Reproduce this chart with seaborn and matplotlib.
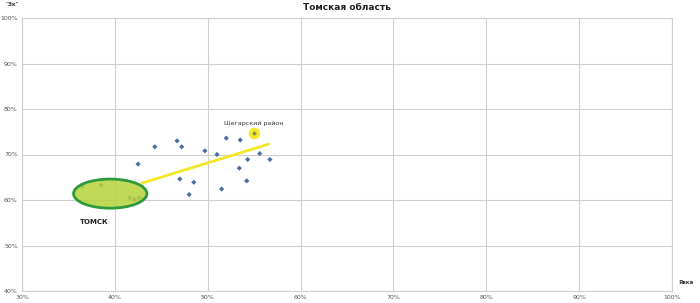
import matplotlib
matplotlib.use("Agg")
import matplotlib.pyplot as plt
from matplotlib.patches import Ellipse
import seaborn as sns
import pandas as pd

# Data (percentages)
turnout = [44.3, 46.7, 47.2, 42.5, 49.7, 51.0, 52.0, 53.5, 55.6, 54.3, 56.7, 53.4,
           54.2, 51.5, 47.0, 48.5, 48.0, 36.5, 38.5, 41.6, 42.1, 42.6]
share = [71.7, 73.0, 71.7, 67.9, 70.8, 70.0, 73.6, 73.2, 70.2, 68.9, 68.9, 67.0,
         64.2, 62.4, 64.6, 63.9, 61.2, 62.9, 63.3, 60.5, 60.1, 60.5]
highlight_x = [55.0]
highlight_y = [74.7]
highlight_label = "Шегарский район"
trend_x = [42.9, 56.6]
trend_y = [63.7, 72.3]
tomsk_center = (39.5, 61.4)
tomsk_size = (7.9, 6.4)
tomsk_label = "ТОМСК"
title = "Томская область"
x_label = "Явка"
y_label = "\"Зк\""
x_ticks = [30, 40, 50, 60, 70, 80, 90, 100]
y_ticks = [40, 50, 60, 70, 80, 90, 100]

df = pd.DataFrame({"turnout": turnout, "share": share})

sns.set_theme(style="white")
plt.rcParams['font.family'] = ['DejaVu Sans']

fig = plt.figure(figsize=(7, 3.03), dpi=100)
ax = fig.add_axes([22/700, 1 - 291/303, 650/700, 273/303])

ax.set_xlim(30, 100)
ax.set_ylim(40, 100)
ax.set_xticks(x_ticks)
ax.set_yticks(y_ticks)
ax.set_xticklabels([f"{t}%" for t in x_ticks])
ax.set_yticklabels([f"{t}%" for t in y_ticks])
ax.grid(True, color="#cfcfcf", linewidth=0.8)
ax.set_axisbelow(True)
for s in ax.spines.values():
    s.set_color("#cfcfcf")
    s.set_linewidth(0.8)
ax.tick_params(axis="both", labelsize=4.5, colors="#555555", length=0, pad=3)

# Trend line
sns.lineplot(x=trend_x, y=trend_y, ax=ax, color="#f2e625", linewidth=2, zorder=2)

# Highlight circle
ax.scatter(highlight_x, highlight_y, s=70, color="#f5ea2a", zorder=3, linewidths=0)

sns.scatterplot(data=df, x="turnout", y="share", ax=ax, marker="D", s=7,
                color="#4a6fa5", edgecolor="none", zorder=4)
ax.scatter(highlight_x, highlight_y, s=6, marker="D", color="#8a8f60", zorder=4, linewidths=0)

# Tomsk ellipse (over the line and its points, semi-opaque fill)
ell = Ellipse(tomsk_center, tomsk_size[0], tomsk_size[1], facecolor=(0.71, 0.83, 0.23, 0.85),
              edgecolor="#2e9a3c", linewidth=2, zorder=5)
ax.add_patch(ell)

ax.text(highlight_x[0], highlight_y[0] + 2.2, highlight_label, fontsize=4.5,
        color="#333333", ha="center", va="center")
ax.text(tomsk_center[0] - 1.7, tomsk_center[1] - 6.2, tomsk_label, fontsize=5,
        fontweight="bold", color="#222222", ha="center", va="center")

ax.set_xlabel("")
ax.set_ylabel("")
fig.text(347/700, 1 - 8/303, title, fontsize=6.5, fontweight="bold", ha="center",
         va="center", color="#222222")
fig.text(12/700, 1 - 5/303, y_label, fontsize=4, fontweight="bold", ha="center",
         va="center", color="#333333")
fig.text(686/700, 1 - 283/303, x_label, fontsize=4, fontweight="bold", ha="center",
         va="center", color="#333333")

fig.savefig("out.png", dpi=100)
